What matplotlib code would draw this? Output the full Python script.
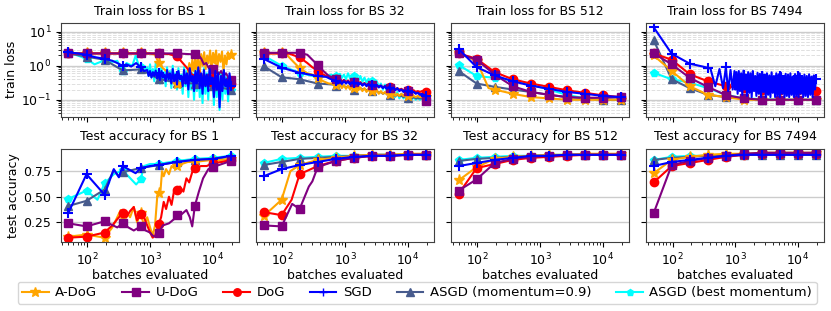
import numpy as np
import matplotlib.pyplot as plt
from matplotlib.lines import Line2D

# evaluation points where markers sit
steps = [50, 97, 188, 365, 708, 1374, 2666, 5172, 10035, 19470]
batch_sizes = [1, 32, 512, 7494]
methods = ["A-DoG", "U-DoG", "DoG", "SGD", "ASGD (momentum=0.9)", "ASGD (best momentum)"]
colors = ["orange", "purple", "red", "blue", "#475b8d", "cyan"]
markers = ["*", "s", "o", "+", "^", "p"]
msizes = [8, 6, 6, 7, 6, 5.5]
zorders = [2.2, 2.4, 2.3, 2.5, 2.1, 2.0]

# ---- train loss, values at the marker steps (order = methods) ----
loss_bs1 = [
    [2.3, 2.3, 2.3, 2.3, 2.3, 1.2, 0.3, 1.0, 1.5, 2.0],
    [2.3, 2.3, 2.3, 2.3, 2.3, 2.3, 2.3, 2.15, 0.8, 0.38],
    [2.3, 2.3, 2.3, 2.3, 2.3, 2.3, 1.9, 0.45, 0.45, 0.3],
    [2.5, 2.1, 1.6, 1.0, 0.9, 0.6, 0.5, 0.4, 0.3, 0.25],
    [2.3, 1.85, 1.5, 0.73, 0.78, 0.41, 0.32, 0.3, 0.25, 0.2],
    [2.4, 1.6, 1.45, 0.7, 0.9, 0.5, 0.4, 0.3, 0.25, 0.2],
]
loss_bs32 = [
    [2.3, 2.3, 0.85, 0.45, 0.28, 0.22, 0.18, 0.15, 0.13, 0.12],
    [2.4, 2.4, 2.4, 1.05, 0.42, 0.33, 0.27, 0.22, 0.18, 0.095],
    [2.3, 2.3, 1.75, 0.72, 0.4, 0.33, 0.28, 0.23, 0.2, 0.17],
    [1.6, 0.88, 0.62, 0.5, 0.35, 0.31, 0.27, 0.22, 0.18, 0.13],
    [0.98, 0.46, 0.4, 0.3, 0.25, 0.19, 0.18, 0.14, 0.115, 0.1],
    [2.0, 1.0, 0.62, 0.46, 0.5, 0.5, 0.35, 0.22, 0.12, 0.1],
]
loss_bs512 = [
    [2.3, 1.4, 0.2, 0.15, 0.12, 0.11, 0.1, 0.1, 0.1, 0.1],
    [2.3, 1.5, 0.55, 0.25, 0.17, 0.14, 0.12, 0.115, 0.115, 0.12],
    [2.3, 1.6, 0.65, 0.4, 0.3, 0.24, 0.19, 0.16, 0.135, 0.12],
    [3.1, 0.91, 0.52, 0.35, 0.26, 0.21, 0.17, 0.15, 0.13, 0.12],
    [0.7, 0.3, 0.24, 0.2, 0.17, 0.14, 0.12, 0.11, 0.1, 0.1],
    [1.05, 0.5, 0.44, 0.37, 0.28, 0.2, 0.14, 0.11, 0.1, 0.1],
]
loss_bs7494 = [
    [2.0, 0.7, 0.25, 0.14, 0.12, 0.1, 0.1, 0.1, 0.1, 0.1],
    [2.3, 1.1, 0.44, 0.24, 0.137, 0.11, 0.1, 0.1, 0.1, 0.1],
    [2.3, 1.5, 0.56, 0.35, 0.25, 0.22, 0.2, 0.2, 0.19, 0.18],
    [13.5, 2.25, 1.15, 0.87, 0.9, 0.55, 0.5, 0.5, 0.5, 0.41],
    [5.6, 0.4, 0.22, 0.14, 0.12, 0.11, 0.1, 0.1, 0.1, 0.1],
    [0.62, 0.4, 0.32, 0.22, 0.14, 0.11, 0.105, 0.1, 0.1, 0.1],
]

# noisy stretches of the train loss curves
bs1_adog_noise = [0.6, 1.2, 0.5, 1.5, 0.7, 1.8, 0.9, 1.6, 0.6, 2.2, 1.0, 2.5, 0.8, 2.0, 1.2,
                  2.8, 0.9, 2.4, 1.5, 2.8, 1.0, 2.2, 1.3, 2.6, 0.7, 2.0, 1.1, 2.5, 1.6, 2.0]
bs1_udog_noise = [2.0, 1.6, 1.1, 1.2, 0.85, 0.95, 0.7, 0.8, 0.55, 0.7, 0.5, 0.6, 0.45, 0.38]
bs1_dog_noise = [0.45, 0.7, 0.35, 0.6, 0.3, 0.55, 0.25, 0.5, 0.3, 0.45, 0.22, 0.5, 0.28, 0.4, 0.25, 0.3]
bs1_sgd_noise = [0.75, 0.5, 0.7, 0.45, 0.65, 0.5, 0.72, 0.42, 0.6, 0.38, 0.7, 0.45, 0.55, 0.35, 0.75,
                 0.4, 0.6, 0.3, 0.8, 0.35, 0.55, 0.28, 0.7, 0.4, 0.5, 0.25, 0.75, 0.3, 0.6, 0.2,
                 0.85, 0.35, 0.5, 0.18, 0.7, 0.3, 0.9, 0.22, 0.6, 0.15, 0.75, 0.25, 0.55, 0.18, 0.8,
                 0.3, 0.45, 0.12, 0.7, 0.2, 0.6, 0.06, 0.5, 0.18, 0.75, 0.25, 0.4, 0.15, 0.6, 0.25]
bs1_best_noise = [0.9, 0.5, 1.1, 0.45, 0.8, 0.35, 1.2, 0.5, 0.7, 0.3, 1.0, 0.4, 0.65, 0.25, 0.9,
                  0.35, 0.7, 0.22, 1.0, 0.3, 0.6, 0.2, 0.85, 0.28, 0.55, 0.15, 0.9, 0.25, 0.7, 0.12,
                  1.0, 0.2, 0.6, 0.1, 0.8, 0.18, 0.95, 0.12, 0.55, 0.08, 0.85, 0.15, 0.6, 0.1, 0.9,
                  0.2, 0.5, 0.07, 0.75, 0.12, 0.65, 0.05, 0.6, 0.1, 0.8, 0.15, 0.45, 0.09, 0.5, 0.2]

bs32_adog_noise = [0.3, 0.24, 0.29, 0.22, 0.27, 0.21, 0.26, 0.2, 0.25, 0.2, 0.24, 0.19, 0.23, 0.18, 0.22,
                   0.17, 0.21, 0.17, 0.2, 0.16, 0.19, 0.15, 0.18, 0.15, 0.17, 0.14, 0.16, 0.14, 0.16, 0.13,
                   0.15, 0.13, 0.15, 0.13, 0.14, 0.12, 0.14, 0.12, 0.13, 0.12, 0.13, 0.12, 0.12, 0.12, 0.12]
bs32_udog_noise = [0.45, 0.38, 0.42, 0.34, 0.38, 0.33, 0.36, 0.31, 0.34, 0.3, 0.33, 0.29, 0.32, 0.28, 0.3,
                   0.27, 0.29, 0.26, 0.28, 0.25, 0.27, 0.24, 0.26, 0.23, 0.25, 0.22, 0.23, 0.21, 0.22, 0.2,
                   0.21, 0.19, 0.2, 0.18, 0.19, 0.18, 0.18, 0.17, 0.17, 0.16, 0.16, 0.15, 0.13, 0.11, 0.095]
bs32_dog_noise = [0.42, 0.36, 0.4, 0.33, 0.38, 0.32, 0.37, 0.3, 0.35, 0.31, 0.34, 0.29, 0.33, 0.28, 0.31,
                  0.27, 0.3, 0.26, 0.28, 0.25, 0.27, 0.24, 0.26, 0.23, 0.25, 0.22, 0.24, 0.21, 0.23, 0.2,
                  0.22, 0.2, 0.21, 0.19, 0.2, 0.18, 0.2, 0.18, 0.19, 0.17, 0.18, 0.17, 0.18, 0.16, 0.17]
bs32_sgd_noise = [0.37, 0.3, 0.36, 0.29, 0.35, 0.3, 0.34, 0.28, 0.33, 0.28, 0.32, 0.27, 0.31, 0.26, 0.3,
                  0.25, 0.29, 0.25, 0.28, 0.24, 0.27, 0.23, 0.26, 0.22, 0.25, 0.21, 0.24, 0.2, 0.23, 0.19,
                  0.22, 0.18, 0.2, 0.17, 0.19, 0.16, 0.18, 0.16, 0.17, 0.15, 0.16, 0.14, 0.15, 0.14, 0.13]
bs32_asgd_noise = [0.27, 0.25, 0.27, 0.24, 0.26, 0.23, 0.25, 0.22, 0.24, 0.22, 0.23, 0.21, 0.22, 0.2, 0.21,
                   0.19, 0.2, 0.18, 0.19, 0.17, 0.18, 0.16, 0.17, 0.15, 0.16, 0.15, 0.15, 0.14, 0.15, 0.13,
                   0.14, 0.13, 0.13, 0.12, 0.13, 0.12, 0.12, 0.11, 0.12, 0.11, 0.11, 0.11, 0.11, 0.1, 0.1]
bs32_best_noise = [0.5, 0.42, 0.58, 0.44, 0.55, 0.4, 0.6, 0.42, 0.52, 0.38, 0.55, 0.36, 0.5, 0.34, 0.45,
                   0.32, 0.42, 0.3, 0.38, 0.27, 0.35, 0.25, 0.3, 0.2, 0.28, 0.17, 0.22, 0.14, 0.2, 0.12,
                   0.17, 0.11, 0.15, 0.11, 0.14, 0.1, 0.13, 0.1, 0.12, 0.1, 0.12, 0.1, 0.11, 0.1, 0.1]

bs7494_sgd_noise = [0.2, 0.65, 0.15, 0.7, 0.18, 0.6, 0.14, 0.72, 0.2, 0.55, 0.13, 0.65, 0.16, 0.6, 0.12,
                    0.7, 0.18, 0.5, 0.13, 0.62, 0.15, 0.58, 0.12, 0.66, 0.17, 0.55, 0.12, 0.6, 0.14, 0.52,
                    0.12, 0.64, 0.16, 0.5, 0.12, 0.6, 0.13, 0.56, 0.12, 0.62, 0.15, 0.5, 0.12, 0.58, 0.13,
                    0.55, 0.12, 0.6, 0.14, 0.48, 0.12, 0.57, 0.13, 0.52, 0.12, 0.6, 0.15, 0.5, 0.12, 0.55,
                    0.13, 0.5, 0.12, 0.56, 0.14, 0.48, 0.12, 0.52, 0.2, 0.41]

# ---- test accuracy at the marker steps ----
acc_bs1 = [
    [0.11, 0.13, 0.1, 0.31, 0.34, 0.54, 0.8, 0.84, 0.86, 0.87],
    [0.24, 0.21, 0.26, 0.24, 0.21, 0.15, 0.32, 0.41, 0.79, 0.85],
    [0.1, 0.11, 0.15, 0.34, 0.33, 0.23, 0.57, 0.78, 0.83, 0.86],
    [0.345, 0.72, 0.52, 0.8, 0.78, 0.81, 0.84, 0.86, 0.87, 0.9],
    [0.41, 0.46, 0.57, 0.74, 0.78, 0.81, 0.84, 0.86, 0.87, 0.89],
    [0.48, 0.56, 0.63, 0.76, 0.67, 0.82, 0.85, 0.87, 0.88, 0.9],
]
acc_bs32 = [
    [0.31, 0.47, 0.81, 0.86, 0.88, 0.9, 0.91, 0.91, 0.92, 0.92],
    [0.22, 0.21, 0.38, 0.79, 0.85, 0.88, 0.9, 0.9, 0.91, 0.91],
    [0.35, 0.32, 0.72, 0.8, 0.85, 0.88, 0.9, 0.9, 0.91, 0.91],
    [0.7, 0.77, 0.81, 0.84, 0.87, 0.89, 0.9, 0.9, 0.91, 0.91],
    [0.81, 0.84, 0.87, 0.88, 0.89, 0.9, 0.91, 0.91, 0.91, 0.91],
    [0.83, 0.87, 0.88, 0.89, 0.9, 0.9, 0.91, 0.91, 0.91, 0.91],
]
acc_bs512 = [
    [0.66, 0.79, 0.87, 0.89, 0.9, 0.91, 0.91, 0.92, 0.92, 0.92],
    [0.56, 0.67, 0.83, 0.87, 0.89, 0.9, 0.91, 0.91, 0.91, 0.91],
    [0.53, 0.78, 0.82, 0.86, 0.88, 0.89, 0.9, 0.91, 0.91, 0.91],
    [0.8, 0.83, 0.86, 0.88, 0.9, 0.9, 0.91, 0.91, 0.91, 0.91],
    [0.85, 0.87, 0.88, 0.89, 0.9, 0.9, 0.91, 0.91, 0.91, 0.91],
    [0.86, 0.88, 0.89, 0.9, 0.9, 0.91, 0.91, 0.91, 0.91, 0.91],
]
acc_bs7494 = [
    [0.73, 0.86, 0.89, 0.91, 0.92, 0.92, 0.93, 0.93, 0.93, 0.93],
    [0.34, 0.81, 0.85, 0.88, 0.9, 0.92, 0.93, 0.93, 0.93, 0.93],
    [0.64, 0.8, 0.83, 0.86, 0.89, 0.91, 0.92, 0.92, 0.92, 0.92],
    [0.8, 0.84, 0.86, 0.88, 0.9, 0.91, 0.91, 0.91, 0.91, 0.91],
    [0.86, 0.88, 0.89, 0.9, 0.9, 0.91, 0.91, 0.91, 0.91, 0.91],
    [0.86, 0.89, 0.9, 0.9, 0.91, 0.91, 0.91, 0.91, 0.91, 0.91],
]


def with_noise(x_head, y_head, start, stop, y_noise):
    x = list(x_head) + list(np.geomspace(start, stop, len(y_noise)))
    return x, list(y_head) + list(y_noise)


# full curves where they differ from a straight path through the markers
loss_lines = {
    (1, 0): with_noise([50, 97, 188, 365, 708, 1000, 1200, 1374, 1600, 2000, 2666, 3200, 3700],
                       [2.3, 2.3, 2.3, 2.3, 2.3, 2.3, 2.1, 1.2, 0.85, 0.6, 0.3, 0.25, 0.5],
                       4000, 19470, bs1_adog_noise),
    (1, 1): with_noise([50, 97, 188, 365, 708, 1374, 2666, 5172],
                       [2.3, 2.3, 2.3, 2.3, 2.3, 2.3, 2.3, 2.15], 6000, 19470, bs1_udog_noise),
    (1, 2): with_noise([50, 97, 188, 365, 708, 1374, 2000, 2666, 3200, 3800, 4500, 5172],
                       [2.3, 2.3, 2.3, 2.3, 2.3, 2.3, 2.2, 1.9, 1.3, 0.9, 0.6, 0.45],
                       5600, 19470, bs1_dog_noise),
    (1, 3): with_noise([50, 70, 97, 130, 188, 250, 300, 365, 420, 500, 600, 708, 800],
                       [2.5, 2.3, 2.1, 1.8, 1.6, 1.4, 1.2, 1.0, 1.1, 0.95, 1.2, 0.9, 0.7],
                       900, 19470, bs1_sgd_noise),
    (1, 5): with_noise([50, 70, 97, 130, 188, 250, 300, 365, 420, 520, 590, 650, 708, 800],
                       [2.4, 2.0, 1.6, 1.1, 1.45, 1.3, 1.4, 0.7, 1.2, 1.0, 2.0, 1.1, 0.9, 0.65],
                       900, 19470, bs1_best_noise),
    (32, 0): with_noise([50, 97, 120, 150, 188, 250, 300, 365, 450, 550, 650],
                        [2.3, 2.3, 2.0, 1.3, 0.85, 0.6, 0.55, 0.45, 0.35, 0.3, 0.3],
                        708, 19470, bs32_adog_noise),
    (32, 1): with_noise([50, 97, 188, 250, 300, 365, 450, 550, 650],
                        [2.4, 2.4, 2.4, 2.1, 1.5, 1.05, 0.7, 0.5, 0.45], 708, 19470, bs32_udog_noise),
    (32, 2): with_noise([50, 97, 130, 188, 250, 300, 365, 450, 550, 650],
                        [2.3, 2.3, 2.25, 1.75, 1.2, 0.9, 0.72, 0.55, 0.45, 0.42],
                        708, 19470, bs32_dog_noise),
    (32, 3): with_noise([50, 97, 188, 365, 500, 600, 650],
                        [1.6, 0.88, 0.62, 0.5, 0.47, 0.4, 0.38], 708, 19470, bs32_sgd_noise),
    (32, 4): with_noise([50, 97, 188, 365, 650],
                        [0.98, 0.46, 0.4, 0.3, 0.28], 708, 19470, bs32_asgd_noise),
    (32, 5): with_noise([50, 97, 188, 365, 500, 600, 650],
                        [2.0, 1.0, 0.62, 0.46, 0.5, 0.55, 0.5], 708, 19470, bs32_best_noise),
    (512, 0): ([50, 97, 150, 188, 365, 708, 1374, 2666, 5172, 10035, 19470],
               [2.3, 1.4, 0.22, 0.2, 0.15, 0.12, 0.11, 0.1, 0.1, 0.1, 0.1]),
    (7494, 3): with_noise([50, 97, 188, 300, 365, 400, 480, 560, 640, 708, 770, 840, 910, 970],
                          [13.5, 2.25, 1.15, 0.95, 0.87, 0.85, 0.25, 0.8, 0.22, 0.9, 0.18, 0.75, 0.2, 0.7],
                          1000, 19470, bs7494_sgd_noise),
}

acc_lines = {
    (1, 0): ([50, 97, 150, 188, 250, 300, 340, 365, 420, 480, 550, 620, 708, 800, 900, 1000, 1100,
              1200, 1300, 1374, 1450, 1550, 1650, 1800, 2000, 2200, 2400, 2666, 3200, 4000, 5172,
              7000, 10035, 14000, 19470],
             [0.11, 0.13, 0.11, 0.1, 0.2, 0.3, 0.37, 0.31, 0.35, 0.3, 0.4, 0.25, 0.34, 0.22, 0.3, 0.2,
              0.12, 0.22, 0.5, 0.54, 0.52, 0.75, 0.7, 0.77, 0.72, 0.8, 0.78, 0.8, 0.82, 0.84, 0.84,
              0.85, 0.86, 0.86, 0.87]),
    (1, 1): ([50, 97, 188, 300, 365, 450, 550, 708, 850, 1000, 1100, 1200, 1374, 1600, 2000, 2400,
              2666, 3200, 3800, 4300, 4700, 5172, 6000, 7000, 8500, 10035, 14000, 19470],
             [0.24, 0.21, 0.26, 0.2, 0.24, 0.2, 0.17, 0.21, 0.17, 0.15, 0.12, 0.11, 0.15, 0.22, 0.24,
              0.28, 0.32, 0.33, 0.37, 0.3, 0.21, 0.41, 0.55, 0.68, 0.77, 0.79, 0.82, 0.85]),
    (1, 2): ([50, 97, 188, 250, 300, 365, 420, 480, 550, 620, 708, 800, 900, 1000, 1100, 1200, 1374,
              1500, 1650, 1800, 2000, 2200, 2400, 2666, 3000, 3400, 3800, 4200, 4700, 5172, 6500,
              8000, 10035, 14000, 19470],
             [0.1, 0.11, 0.15, 0.22, 0.28, 0.34, 0.3, 0.36, 0.4, 0.27, 0.33, 0.3, 0.22, 0.15, 0.1,
              0.12, 0.23, 0.3, 0.45, 0.38, 0.5, 0.42, 0.55, 0.57, 0.6, 0.55, 0.68, 0.64, 0.74, 0.78,
              0.8, 0.8, 0.83, 0.84, 0.86]),
    (1, 3): ([50, 97, 188, 264, 318, 365, 588, 708, 1000, 1374, 2666, 5172, 10035, 19470],
             [0.345, 0.72, 0.52, 0.77, 0.69, 0.8, 0.73, 0.78, 0.8, 0.81, 0.84, 0.86, 0.87, 0.9]),
    (1, 4): ([50, 97, 188, 264, 318, 365, 708, 1374, 2666, 5172, 10035, 19470],
             [0.41, 0.46, 0.57, 0.76, 0.7, 0.74, 0.78, 0.81, 0.84, 0.86, 0.87, 0.89]),
    (1, 5): ([50, 97, 145, 188, 264, 365, 520, 600, 708, 800, 1000, 1374, 2666, 5172, 10035, 19470],
             [0.48, 0.56, 0.47, 0.63, 0.72, 0.76, 0.66, 0.62, 0.67, 0.8, 0.82, 0.82, 0.85, 0.87, 0.88, 0.9]),
    (32, 0): ([50, 97, 134, 188, 365, 708, 1374, 2666, 5172, 10035, 19470],
              [0.31, 0.47, 0.75, 0.81, 0.86, 0.88, 0.9, 0.91, 0.91, 0.92, 0.92]),
    (32, 1): ([50, 97, 143, 188, 264, 300, 365, 708, 1374, 2666, 5172, 10035, 19470],
              [0.22, 0.21, 0.43, 0.38, 0.6, 0.65, 0.79, 0.85, 0.88, 0.9, 0.9, 0.91, 0.91]),
    (32, 2): ([50, 97, 140, 188, 365, 708, 1374, 2666, 5172, 10035, 19470],
              [0.35, 0.32, 0.47, 0.72, 0.8, 0.85, 0.88, 0.9, 0.9, 0.91, 0.91]),
}

loss_all = [loss_bs1, loss_bs32, loss_bs512, loss_bs7494]
acc_all = [acc_bs1, acc_bs32, acc_bs512, acc_bs7494]

fig, axes = plt.subplots(2, 4, figsize=(8.31, 3.11), dpi=100, sharex=True, sharey="row")
fig.subplots_adjust(left=0.0734, right=0.9916, top=0.926, bottom=0.221, wspace=0.097, hspace=0.342)


def draw(ax, marks, lines, bs):
    for k in range(len(methods)):
        x, y = lines.get((bs, k), (steps, marks[k]))
        ax.plot(x, y, color=colors[k], lw=1.5, zorder=zorders[k])
        ax.plot(steps, marks[k], ls="none", marker=markers[k], ms=msizes[k], color=colors[k],
                mew=1.5 if markers[k] == "+" else 1.0, zorder=zorders[k])


for j, bs in enumerate(batch_sizes):
    ax = axes[0, j]
    draw(ax, loss_all[j], loss_lines, bs)
    ax.set_yscale("log")
    ax.set_ylim(0.032, 18)
    ax.grid(True, which="major", axis="y", color="0.8", lw=1.0)
    ax.grid(True, which="minor", axis="y", color="0.88", ls="--", lw=0.7)
    ax.set_title(f"Train loss for BS {bs}", fontsize=9)

    ax = axes[1, j]
    draw(ax, acc_all[j], acc_lines, bs)
    ax.set_ylim(0.055, 0.97)
    ax.set_yticks([0.25, 0.5, 0.75])
    ax.grid(True, axis="y", color="0.8", lw=1.0)
    ax.set_title(f"Test accuracy for BS {bs}", fontsize=9)
    ax.set_xlabel("batches evaluated", fontsize=9, labelpad=0)

for ax in axes.flat:
    ax.set_xscale("log")
    ax.set_xlim(38, 26000)
    ax.tick_params(labelsize=9)
    for s in ax.spines.values():
        s.set_color("0.25")

axes[0, 0].set_ylabel("train loss", fontsize=9, labelpad=2)
axes[1, 0].set_ylabel("test accuracy", fontsize=9, labelpad=2)

handles = [Line2D([], [], color=c, marker=m, ms=ms * 0.9, lw=1.5) for c, m, ms in zip(colors, markers, msizes)]
fig.legend(handles, methods, loc="center", bbox_to_anchor=(0.502, 0.059), ncol=6, fontsize=9.5,
           handlelength=2.0, columnspacing=1.9, handletextpad=0.5, borderpad=0.35)

fig.savefig("out.png", dpi=100)
